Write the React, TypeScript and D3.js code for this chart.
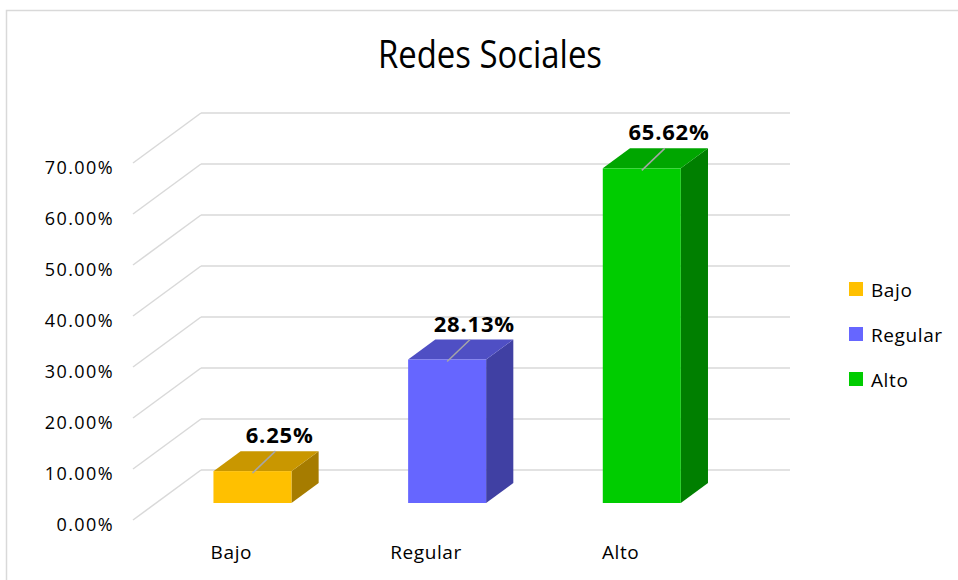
import { useEffect, useRef } from "react";
import * as d3 from "d3";

// chart data
const categories = ["Bajo", "Regular", "Alto"];
const values = [6.25, 28.13, 65.62];
const valueLabels = ["6.25%", "28.13%", "65.62%"];
const colors = ["#FFC000", "#6666FF", "#00CC00"];
const topColors = ["#C99700", "#4F4FC4", "#00A600"];
const sideColors = ["#A67C00", "#4040A3", "#007F00"];
const yTicks = [0, 10, 20, 30, 40, 50, 60, 70];

const FONT = "'Open Sans', 'Noto Sans', sans-serif";

function App() {
  const ref = useRef(null);

  useEffect(() => {
    const width = 958,
      height = 580;

    d3.select(ref.current).selectAll("svg").remove();
    const svg = d3
      .select(ref.current)
      .append("svg")
      .attr("width", width)
      .attr("height", height)
      .style("position", "absolute")
      .style("left", "0px")
      .style("top", "0px")
      .style("background", "#fff");

    // outer chart border
    svg
      .append("rect")
      .attr("x", 6.5)
      .attr("y", 10.5)
      .attr("width", 980)
      .attr("height", 600)
      .attr("fill", "#fff")
      .attr("stroke", "#d9d9d9")
      .attr("stroke-width", 1.5);

    // title
    svg
      .append("text")
      .attr("x", 490)
      .attr("y", 68)
      .attr("text-anchor", "middle")
      .attr("textLength", 224)
      .attr("lengthAdjust", "spacingAndGlyphs")
      .style("font-family", FONT)
      .style("font-size", "38px")
      .attr("fill", "#000")
      .text("Redes Sociales");

    // 3d projection: depth vector from front floor edge to back wall
    const depthX = 68,
      depthY = 50;
    const zFront = 0.66,
      zBack = 0.26;
    const wallLeft = 201,
      wallRight = 790;

    const y = d3.scaleLinear().domain([0, 70]).range([470, 113]);
    const x = d3.scaleBand().domain(categories).range([200, 784]);
    const barW = 78;

    // gridlines: back wall + left side wall diagonals
    const grid = svg.append("g").attr("stroke", "#d9d9d9").attr("stroke-width", 1.5);
    yTicks.forEach((t) => {
      grid
        .append("line")
        .attr("x1", wallLeft)
        .attr("x2", wallRight)
        .attr("y1", y(t))
        .attr("y2", y(t));
      grid
        .append("line")
        .attr("x1", wallLeft)
        .attr("y1", y(t))
        .attr("x2", wallLeft - depthX)
        .attr("y2", y(t) + depthY);
    });

    // y axis labels
    svg
      .append("g")
      .selectAll("text")
      .data(yTicks)
      .join("text")
      .attr("x", 114)
      .attr("y", (d) => y(d) + depthY + 11)
      .attr("text-anchor", "end")
      .style("font-family", FONT)
      .style("font-size", "18px")
      .style("letter-spacing", "1.4px")
      .attr("fill", "#000")
      .text((d) => d.toFixed(2) + "%");

    // bars
    const bars = svg.append("g");
    categories.forEach((c, i) => {
      const cx = x(c) + x.bandwidth() / 2 - depthX * zFront;
      const x0 = cx - barW / 2,
        x1 = cx + barW / 2;
      const yT = y(values[i]) + depthY * zFront;
      const yB = y(0) + depthY * zFront;
      const dx = depthX * (zFront - zBack),
        dy = depthY * (zFront - zBack);

      // side face
      bars
        .append("polygon")
        .attr(
          "points",
          [
            [x1, yT],
            [x1 + dx, yT - dy],
            [x1 + dx, yB - dy],
            [x1, yB],
          ].join(" ")
        )
        .attr("fill", sideColors[i]);
      // top face
      bars
        .append("polygon")
        .attr(
          "points",
          [
            [x0, yT],
            [x1, yT],
            [x1 + dx, yT - dy],
            [x0 + dx, yT - dy],
          ].join(" ")
        )
        .attr("fill", topColors[i]);
      // front face
      bars
        .append("rect")
        .attr("x", x0)
        .attr("y", yT)
        .attr("width", barW)
        .attr("height", yB - yT)
        .attr("fill", colors[i]);

      // leader line
      bars
        .append("line")
        .attr("x1", cx)
        .attr("y1", yT + 2)
        .attr("x2", cx + 23)
        .attr("y2", yT - 20)
        .attr("stroke", "#a6a6a6")
        .attr("stroke-width", 1.5);

      // data label
      bars
        .append("text")
        .attr("x", cx + dx)
        .attr("y", yT - dy - 8)
        .attr("text-anchor", "middle")
        .style("font-family", FONT)
        .style("font-size", "22px")
        .style("font-weight", "bold")
        .style("letter-spacing", "0.8px")
        .attr("fill", "#000")
        .text(valueLabels[i]);

      // category label on the front floor edge
      svg
        .append("text")
        .attr("x", x(c) + x.bandwidth() / 2 - depthX + 2)
        .attr("y", 559)
        .attr("text-anchor", "middle")
        .style("font-family", FONT)
        .style("font-size", "19px")
        .style("letter-spacing", "0.6px")
        .attr("fill", "#000")
        .text(c);
    });

    // legend
    const legend = svg.append("g");
    categories.forEach((c, i) => {
      const ly = 282 + i * 45;
      legend
        .append("rect")
        .attr("x", 849)
        .attr("y", ly)
        .attr("width", 14)
        .attr("height", 14)
        .attr("fill", colors[i]);
      legend
        .append("text")
        .attr("x", 871)
        .attr("y", ly + 15)
        .style("font-family", FONT)
        .style("font-size", "19px")
        .style("letter-spacing", "0.6px")
        .attr("fill", "#000")
        .text(c);
    });
  }, []);

  return <div ref={ref} />;
}

export default App;
